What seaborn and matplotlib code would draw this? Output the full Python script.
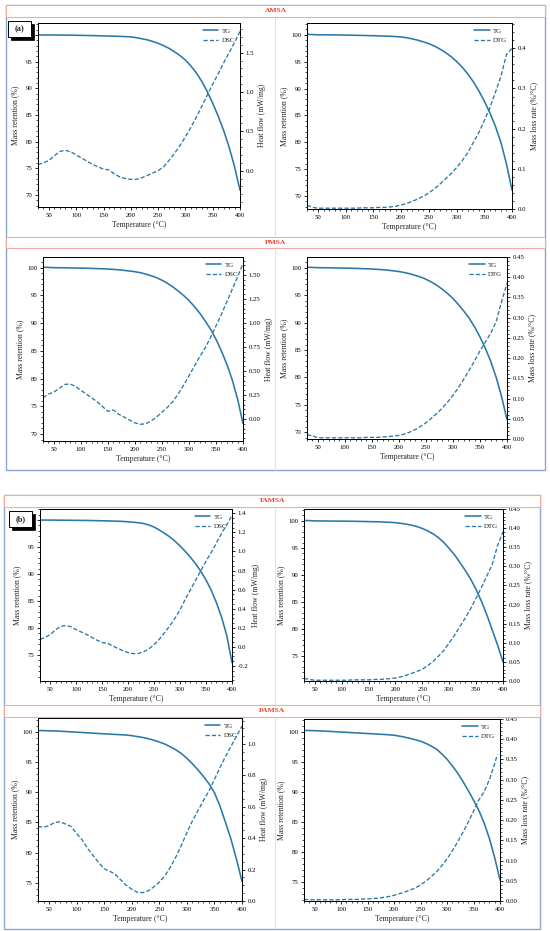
import matplotlib
matplotlib.use("Agg")
import matplotlib.pyplot as plt
import seaborn as sns
import pandas as pd
from matplotlib.ticker import AutoMinorLocator, FormatStrFormatter
from matplotlib.patches import Rectangle
from matplotlib.lines import Line2D

# ---------------- data ----------------
temps = [30, 40, 50, 60, 70, 80, 90, 100, 110, 120, 130, 140, 150, 160, 170, 180, 190,
         200, 210, 220, 230, 240, 250, 260, 270, 280, 290, 300, 310, 320, 330, 340, 350,
         360, 370, 380, 390, 400]
temps_pamsa_dtg = [30, 40, 50, 60, 70, 80, 90, 100, 110, 120, 130, 140, 150, 160, 170, 180, 190,
                   200, 210, 220, 230, 240, 250, 260, 270, 280, 290, 300, 310, 320, 330, 340, 350,
                   360, 370, 380, 390, 395]

amsa_tg_l = [100.0, 100.0, 100.0, 100.0, 99.99, 99.98, 99.97, 99.95, 99.93, 99.91, 99.89, 99.86,
             99.83, 99.8, 99.77, 99.74, 99.7, 99.65, 99.5, 99.3, 99.1, 98.8, 98.45, 98.0, 97.5,
             96.85, 96.15, 95.3, 94.2, 92.9, 91.3, 89.4, 87.2, 84.8, 82.1, 79.0, 75.3, 70.9]
amsa_dsc = [0.08, 0.10, 0.13, 0.19, 0.245, 0.26, 0.24, 0.20, 0.16, 0.12, 0.08, 0.05, 0.02, 0.01,
            -0.04, -0.08, -0.10, -0.11, -0.11, -0.09, -0.06, -0.03, 0.0, 0.05, 0.13, 0.22, 0.32,
            0.43, 0.55, 0.68, 0.82, 0.96, 1.10, 1.23, 1.37, 1.50, 1.63, 1.77]
amsa_tg_r = [100.1, 100.05, 100.0, 100.0, 99.99, 99.98, 99.97, 99.95, 99.93, 99.91, 99.89, 99.86,
             99.83, 99.8, 99.77, 99.73, 99.68, 99.6, 99.45, 99.25, 99.0, 98.7, 98.35, 97.9, 97.35,
             96.7, 95.95, 95.05, 94.0, 92.75, 91.3, 89.6, 87.7, 85.5, 83.0, 80.0, 76.0, 71.1]
amsa_dtg = [0.010, 0.004, 0.002, 0.002, 0.002, 0.002, 0.002, 0.002, 0.002, 0.002, 0.003, 0.003,
            0.003, 0.004, 0.004, 0.005, 0.007, 0.010, 0.014, 0.019, 0.025, 0.032, 0.040, 0.050,
            0.062, 0.075, 0.088, 0.103, 0.120, 0.140, 0.165, 0.190, 0.220, 0.252, 0.290, 0.330,
            0.385, 0.400]

pmsa_tg_l = [100.1, 100.05, 100.0, 100.0, 99.98, 99.96, 99.94, 99.92, 99.9, 99.87, 99.84, 99.8,
             99.76, 99.7, 99.62, 99.52, 99.4, 99.28, 99.1, 98.85, 98.55, 98.2, 97.75, 97.2, 96.55,
             95.8, 95.0, 94.1, 93.0, 91.8, 90.4, 88.9, 87.1, 85.0, 82.6, 79.8, 76.3, 71.9]
pmsa_dsc = [0.22, 0.26, 0.28, 0.32, 0.36, 0.365, 0.34, 0.30, 0.26, 0.22, 0.18, 0.13, 0.08, 0.095,
            0.05, 0.02, -0.01, -0.04, -0.055, -0.05, -0.02, 0.02, 0.07, 0.12, 0.18, 0.26, 0.35,
            0.45, 0.55, 0.65, 0.74, 0.85, 0.97, 1.09, 1.22, 1.35, 1.48, 1.62]
pmsa_tg_r = [100.1, 100.05, 100.0, 100.0, 99.98, 99.96, 99.94, 99.92, 99.9, 99.87, 99.84, 99.8,
             99.76, 99.7, 99.63, 99.54, 99.43, 99.3, 99.12, 98.9, 98.6, 98.3, 97.9, 97.4, 96.8,
             96.1, 95.3, 94.4, 93.3, 92.1, 90.8, 89.2, 87.4, 85.3, 82.9, 80.0, 76.5, 72.3]
pmsa_dtg = [0.010, 0.008, 0.003, 0.003, 0.003, 0.003, 0.003, 0.003, 0.003, 0.003, 0.003, 0.004,
            0.004, 0.004, 0.005, 0.006, 0.007, 0.009, 0.012, 0.017, 0.023, 0.031, 0.040, 0.051,
            0.063, 0.076, 0.091, 0.108, 0.127, 0.148, 0.170, 0.193, 0.218, 0.240, 0.262, 0.290,
            0.340, 0.385]

tamsa_tg_l = [100.0, 100.0, 100.0, 99.99, 99.98, 99.97, 99.96, 99.95, 99.94, 99.93, 99.91, 99.89,
              99.87, 99.85, 99.82, 99.79, 99.75, 99.68, 99.6, 99.5, 99.35, 99.1, 98.7, 98.15,
              97.55, 96.9, 96.1, 95.2, 94.2, 93.1, 91.9, 90.5, 88.9, 87.0, 84.7, 82.0, 78.6, 73.6]
tamsa_dsc = [0.08, 0.10, 0.13, 0.18, 0.215, 0.225, 0.21, 0.18, 0.155, 0.13, 0.10, 0.07, 0.045,
             0.04, 0.01, -0.015, -0.04, -0.06, -0.07, -0.068, -0.05, -0.02, 0.025, 0.08, 0.15,
             0.22, 0.30, 0.39, 0.50, 0.60, 0.70, 0.80, 0.90, 0.99, 1.09, 1.19, 1.28, 1.38]
tamsa_tg_r = [100.1, 100.05, 100.0, 99.99, 99.98, 99.97, 99.96, 99.95, 99.94, 99.93, 99.91, 99.89,
              99.87, 99.85, 99.82, 99.78, 99.73, 99.66, 99.55, 99.4, 99.2, 98.95, 98.6, 98.15,
              97.6, 96.9, 96.0, 94.9, 93.7, 92.3, 90.8, 89.2, 87.3, 85.1, 82.6, 79.8, 77.0, 73.9]
tamsa_dtg = [0.007, 0.004, 0.002, 0.002, 0.002, 0.002, 0.002, 0.002, 0.002, 0.003, 0.003, 0.003,
             0.003, 0.004, 0.004, 0.005, 0.006, 0.008, 0.011, 0.015, 0.020, 0.025, 0.031, 0.040,
             0.051, 0.065, 0.080, 0.100, 0.120, 0.143, 0.165, 0.190, 0.217, 0.245, 0.275, 0.305,
             0.355, 0.390]

pamsa_tg_l = [100.2, 100.18, 100.15, 100.12, 100.08, 100.03, 99.98, 99.92, 99.87, 99.82, 99.76,
              99.7, 99.65, 99.6, 99.55, 99.5, 99.45, 99.35, 99.2, 99.05, 98.85, 98.6, 98.3, 97.95,
              97.5, 97.0, 96.4, 95.6, 94.7, 93.7, 92.6, 91.4, 89.9, 87.7, 85.0, 82.2, 78.9, 75.2]
pamsa_dsc = [0.475, 0.47, 0.48, 0.50, 0.505, 0.49, 0.475, 0.43, 0.39, 0.335, 0.29, 0.245, 0.205,
             0.19, 0.17, 0.135, 0.10, 0.075, 0.056, 0.053, 0.065, 0.09, 0.12, 0.16, 0.215, 0.28,
             0.355, 0.435, 0.51, 0.575, 0.64, 0.70, 0.775, 0.85, 0.92, 0.985, 1.05, 1.115]
pamsa_tg_r = [100.2, 100.18, 100.15, 100.12, 100.08, 100.03, 99.98, 99.93, 99.88, 99.83, 99.78,
              99.73, 99.68, 99.63, 99.58, 99.53, 99.47, 99.4, 99.25, 99.08, 98.88, 98.65, 98.4,
              98.05, 97.6, 97.1, 96.3, 95.4, 94.3, 93.1, 91.7, 90.2, 88.6, 86.9, 84.8, 82.2, 79.0,
              75.3]
pamsa_dtg = [0.004, 0.003, 0.003, 0.003, 0.003, 0.003, 0.003, 0.003, 0.004, 0.004, 0.004, 0.005,
             0.005, 0.006, 0.007, 0.009, 0.011, 0.014, 0.018, 0.022, 0.027, 0.032, 0.040, 0.049,
             0.060, 0.072, 0.087, 0.104, 0.124, 0.146, 0.170, 0.195, 0.222, 0.250, 0.270, 0.300,
             0.340, 0.362]

x_ticks = [50, 100, 150, 200, 250, 300, 350, 400]
tg_ticks_a = [70, 75, 80, 85, 90, 95, 100]
tg_ticks_b = [75, 80, 85, 90, 95, 100]
dsc_ticks_amsa = [0.0, 0.5, 1.0, 1.5]
dsc_ticks_pmsa = [0.0, 0.25, 0.5, 0.75, 1.0, 1.25, 1.5]
dsc_ticks_tamsa = [-0.2, 0.0, 0.2, 0.4, 0.6, 0.8, 1.0, 1.2, 1.4]
dsc_ticks_pamsa = [0.0, 0.2, 0.4, 0.6, 0.8, 1.0]
dtg_ticks_amsa = [0.0, 0.1, 0.2, 0.3, 0.4]
dtg_ticks_other = [0.0, 0.05, 0.10, 0.15, 0.20, 0.25, 0.30, 0.35, 0.40, 0.45]

samples = ["AMSA", "PMSA", "TAMSA", "PAMSA"]

# ---------------- style ----------------
sns.set_theme(style="ticks")
plt.rcParams["font.family"] = ["Liberation Serif", "DejaVu Serif"]
plt.rcParams["axes.edgecolor"] = "black"
plt.rcParams["axes.linewidth"] = 0.7
plt.rcParams["xtick.color"] = "black"
plt.rcParams["ytick.color"] = "black"

C = "#2a78a8"
W, H = 550, 931
fig = plt.figure(figsize=(5.5, 9.31), dpi=100)
fig.patch.set_facecolor("white")


def px(l, t, r, b):
    return [l / W, 1 - b / H, (r - l) / W, (b - t) / H]


def style_axis(a):
    a.tick_params(which="major", length=2.5, width=0.6, labelsize=4.9, pad=1.5, direction="out")
    a.tick_params(which="minor", length=1.3, width=0.5, direction="out")


def panel(box, T, tg, T2, sec, name, ylabel2, ylim, y2lim, yt, y2t, fmt):
    ax = fig.add_axes(px(*box))
    sns.lineplot(data=pd.DataFrame({"T": T, "v": tg}), x="T", y="v", ax=ax,
                 color=C, linewidth=1.15, legend=False)
    ax2 = ax.twinx()
    sns.lineplot(data=pd.DataFrame({"T": T2, "v": sec}), x="T", y="v", ax=ax2,
                 color=C, linewidth=0.95, linestyle="--", legend=False)
    for ln in ax.get_lines() + ax2.get_lines():
        ln.set_solid_joinstyle("round")
        ln.set_dash_joinstyle("round")
    for ln in ax2.get_lines():
        ln.set_dashes([3.2, 1.6])
    ax.set_xlim(30, 400)
    ax.set_xticks(x_ticks)
    ax.set_ylim(*ylim)
    ax.set_yticks(yt)
    ax2.set_ylim(*y2lim)
    ax2.set_yticks(y2t)
    ax2.yaxis.set_major_formatter(FormatStrFormatter(fmt))
    ax.xaxis.set_minor_locator(AutoMinorLocator())
    ax.yaxis.set_minor_locator(AutoMinorLocator())
    ax2.yaxis.set_minor_locator(AutoMinorLocator())
    for a in (ax, ax2):
        style_axis(a)
        for s in a.spines.values():
            s.set_visible(True)
            s.set_linewidth(0.7)
            s.set_color("black")
    ax.set_xlabel("Temperature (°C)", fontsize=5.6, labelpad=2.5)
    ax.set_ylabel("Mass retention (%)", fontsize=5.6, labelpad=2.5)
    ax2.set_ylabel(ylabel2, fontsize=5.6, labelpad=3)
    handles = [Line2D([], [], color=C, lw=1.15),
               Line2D([], [], color=C, lw=0.95, dashes=[3.2, 1.6])]
    ax2.legend(handles, ["TG", name], loc="upper right", frameon=False, fontsize=5,
               handlelength=2.2, handletextpad=0.5, labelspacing=0.55,
               borderaxespad=0.4, borderpad=0.3)
    return ax, ax2


HF = "Heat flow (mW/mg)"
ML = "Mass loss rate (%/°C)"

# row 1 : AMSA
panel((38, 23, 240, 207), temps, amsa_tg_l, temps, amsa_dsc, "DSC", HF,
      (67.75, 102.25), (-0.461, 1.877), tg_ticks_a, dsc_ticks_amsa, "%.1f")
panel((307, 23, 512, 209), temps, amsa_tg_r, temps, amsa_dtg, "DTG", ML,
      (67.6, 102.2), (0.0, 0.463), tg_ticks_a, dtg_ticks_amsa, "%.1f")
# row 2 : PMSA
panel((43, 257, 243, 441), temps, pmsa_tg_l, temps, pmsa_dsc, "DSC", HF,
      (68.74, 101.93), (-0.229, 1.6875), tg_ticks_a, dsc_ticks_pmsa, "%.2f")
panel((307, 257, 507, 439), temps, pmsa_tg_r, temps, pmsa_dtg, "DTG", ML,
      (68.78, 101.95), (0.0, 0.45), tg_ticks_a, dtg_ticks_other, "%.2f")
# row 3 : TAMSA
panel((40, 509, 232, 681), temps, tamsa_tg_l, temps, tamsa_dsc, "DSC", HF,
      (70.2, 102.05), (-0.357, 1.445), tg_ticks_b, dsc_ticks_tamsa, "%.1f")
panel((304, 509, 503, 681), temps, tamsa_tg_r, temps, tamsa_dtg, "DTG", ML,
      (70.37, 102.2), (0.0, 0.45), tg_ticks_b, dtg_ticks_other, "%.2f")
# row 4 : PAMSA
panel((38, 718, 242, 901), temps, pamsa_tg_l, temps, pamsa_dsc, "DSC", HF,
      (71.97, 102.27), (0.0, 1.166), tg_ticks_b, dsc_ticks_pamsa, "%.1f")
panel((304, 719, 500, 901), temps, pamsa_tg_r, temps_pamsa_dtg, pamsa_dtg, "DTG", ML,
      (71.8, 102.1), (0.0, 0.45), tg_ticks_b, dtg_ticks_other, "%.2f")

# ---------------- decorations overlay ----------------
ov = fig.add_axes([0, 0, 1, 1], zorder=20)
ov.set_xlim(0, W)
ov.set_ylim(H, 0)
ov.axis("off")
ov.patch.set_alpha(0)

BLUE = "#8aa6cf"
PINK = "#f4aaa2"
RED = "#e8402a"
GREY = "#dcdcdc"


def frame(l, t, r, b):
    ov.add_patch(Rectangle((l, t), r - l, b - t, fill=False, ec=BLUE, lw=1.0))


def header(l, t, r, b, txt):
    ov.add_patch(Rectangle((l, t), r - l, b - t, fc="white", ec=PINK, lw=0.8))
    ov.text((l + r) / 2, (t + b) / 2, txt, color=RED, fontsize=5.4, fontweight="bold",
            ha="center", va="center")


def divider(x, t, b):
    ov.plot([x, x], [t, b], color=GREY, lw=0.6)


def tag(l, t, r, b, txt):
    ov.add_patch(Rectangle((l + 2.5, t + 2.5), r - l, b - t, fc="black", ec="black", lw=0.5))
    ov.add_patch(Rectangle((l, t), r - l, b - t, fc="white", ec="black", lw=0.7))
    ov.text((l + r) / 2, (t + b) / 2 + 0.3, txt, fontsize=6, fontweight="bold",
            ha="center", va="center")


frame(6, 5, 545, 470)
divider(275, 17, 237)
divider(275, 248, 470)
header(6, 5, 545, 17, samples[0])
header(6, 237, 545, 248, samples[1])

frame(4, 495, 540, 929)
divider(275, 507, 705)
divider(275, 717, 929)
header(4, 495, 540, 507, samples[2])
header(4, 705, 540, 717, samples[3])

tag(8, 21, 31, 37, "(a)")
tag(9, 511, 32, 527, "(b)")

fig.savefig("out.png", dpi=100, facecolor="white")
